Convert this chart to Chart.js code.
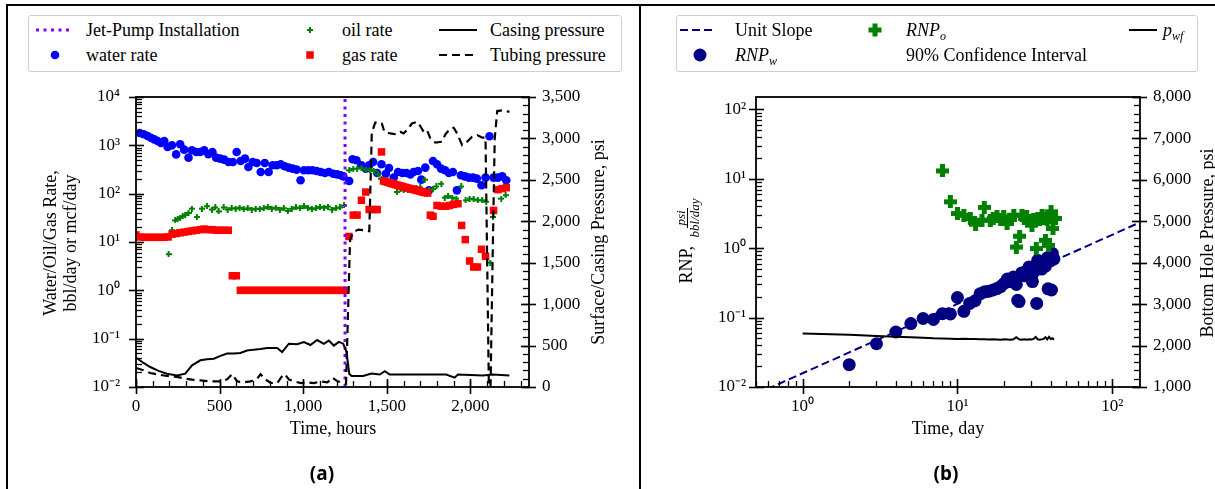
<!DOCTYPE html>
<html>
<head>
<meta charset="utf-8">
<title>Jet-pump production history and RNP</title>
<script src="https://cdn.jsdelivr.net/npm/chart.js@4.4.1/dist/chart.umd.min.js"></script>
<style>
  body { margin: 0; background: #fff; font-family: "Liberation Serif", serif; color: #000; }
  #page { position: relative; width: 1215px; height: 489px; overflow: hidden; }
  .holder { position: absolute; top: 0; }
  .rule { position: absolute; background: #000; }
  .legend { position: absolute; border: 1px solid #cfcfcf; border-radius: 3px; background: #fff; }
  .lbl { position: absolute; font-size: 18px; line-height: 22px; white-space: nowrap; }
  .lbl sub { font-size: 12px; line-height: 0; vertical-align: -4px; font-style: italic; }
  .mark { position: absolute; overflow: visible; }
  .title { position: absolute; font-size: 18px; line-height: 20px; text-align: center; white-space: nowrap; }
  .rot { transform: rotate(-90deg); }
  .frac { display: inline-flex; flex-direction: column; align-items: center; font-style: italic; font-size: 13px; line-height: 13px; vertical-align: middle; margin-left: 4px; }
  .frac span:first-child { border-bottom: 1px solid #000; padding: 0 2px; }
  .panel { position: absolute; width: 100px; text-align: center; font-family: "Noto Sans", sans-serif; font-weight: bold; font-size: 19px; line-height: 24px; }
</style>
</head>
<body>
<div id="page">
  <div class="holder" style="left:0"><canvas id="chartA" width="640" height="489"></canvas></div>
  <div class="holder" style="left:640px"><canvas id="chartB" width="575" height="489"></canvas></div>

  <!-- figure frame -->
  <div class="rule" style="left:6px;top:4px;width:1209px;height:2px"></div>
  <div class="rule" style="left:6px;top:4px;width:2px;height:485px"></div>
  <div class="rule" style="left:639px;top:4px;width:2px;height:485px"></div>

  <!-- legend (a) -->
  <div class="legend" style="left:28px;top:15px;width:592px;height:55px"></div>
  <svg class="mark" style="left:36px;top:25px" width="34" height="10"><line x1="0" y1="5" x2="34" y2="5" stroke="#8000ff" stroke-width="3" stroke-dasharray="3 4.5"/></svg>
  <div class="lbl" style="left:86px;top:19px">Jet-Pump Installation</div>
  <svg class="mark" style="left:50px;top:50px" width="10" height="10"><circle cx="5" cy="5" r="4.3" fill="#0000ff"/></svg>
  <div class="lbl" style="left:86px;top:44px">water rate</div>
  <svg class="mark" style="left:307px;top:27px" width="6" height="6"><path d="M2 0H4V2H6V4H4V6H2V4H0V2H2Z" fill="#008000"/></svg>
  <div class="lbl" style="left:342px;top:19px">oil rate</div>
  <svg class="mark" style="left:306px;top:51px" width="8" height="8"><rect x="0.25" y="0.25" width="7.5" height="7.5" fill="#ff0000"/></svg>
  <div class="lbl" style="left:342px;top:44px">gas rate</div>
  <svg class="mark" style="left:439px;top:25px" width="38" height="10"><line x1="0" y1="5" x2="38" y2="5" stroke="#000" stroke-width="2"/></svg>
  <div class="lbl" style="left:490px;top:19px">Casing pressure</div>
  <svg class="mark" style="left:439px;top:50px" width="38" height="10"><line x1="0" y1="5" x2="38" y2="5" stroke="#000" stroke-width="2.2" stroke-dasharray="8 5"/></svg>
  <div class="lbl" style="left:490px;top:44px">Tubing pressure</div>

  <!-- legend (b) -->
  <div class="legend" style="left:676px;top:15px;width:520px;height:55px"></div>
  <svg class="mark" style="left:680px;top:25px" width="32" height="10"><line x1="0" y1="5" x2="32" y2="5" stroke="#000080" stroke-width="2" stroke-dasharray="8 4"/></svg>
  <div class="lbl" style="left:735px;top:19px">Unit Slope</div>
  <svg class="mark" style="left:693px;top:48px" width="14" height="14"><circle cx="7" cy="7" r="6.5" fill="#000080"/></svg>
  <div class="lbl" style="left:735px;top:44px"><i>RNP</i><sub>w</sub></div>
  <svg class="mark" style="left:868px;top:23px" width="14" height="14"><path d="M4.5 0.5H9.5V4.5H13.5V9.5H9.5V13.5H4.5V9.5H0.5V4.5H4.5Z" fill="#008000"/></svg>
  <div class="lbl" style="left:906px;top:19px"><i>RNP</i><sub>o</sub></div>
  <div class="lbl" style="left:906px;top:44px">90% Confidence Interval</div>
  <svg class="mark" style="left:1129px;top:25px" width="28" height="10"><line x1="0" y1="5" x2="28" y2="5" stroke="#000" stroke-width="2"/></svg>
  <div class="lbl" style="left:1163px;top:19px"><i>p</i><sub>wf</sub></div>

  <!-- axis titles -->
  <div class="title rot" style="left:-90px;top:223px;width:300px;height:40px">Water/Oil/Gas Rate,<br>bbl/day or mcf/day</div>
  <div class="title rot" style="left:448px;top:232px;width:300px;height:20px">Surface/Casing Pressure, psi</div>
  <div class="title" style="left:233px;top:418px;width:200px">Time, hours</div>
  <div class="title rot" style="left:586px;top:221px;width:200px;height:40px;line-height:40px">RNP, <span class="frac"><span>psi</span><span>bbl/day</span></span></div>
  <div class="title rot" style="left:1057px;top:233px;width:300px;height:20px">Bottom Hole Pressure, psi</div>
  <div class="title" style="left:848px;top:418px;width:200px">Time, day</div>
  <div class="panel" style="left:272px;top:461px">(a)</div>
  <div class="panel" style="left:896px;top:461px">(b)</div>
</div>

<script>
// ---- panel (a): production history around the jet-pump installation
const jetPumpHour = 1250;

const waterHours = [22, 46, 69, 89, 109, 129, 149, 169, 189, 215, 240, 264, 288, 314, 334, 360, 384, 408, 433, 457,
  479, 503, 527, 553, 579, 602, 626, 652, 672, 698, 722, 746, 770, 793, 817, 841, 865, 889, 913, 937,
  960, 984, 1004, 1030, 1056, 1080, 1104, 1130, 1153, 1179, 1203, 1225, 1240,
  1275, 1295, 1318, 1348, 1374, 1394, 1418, 1442, 1468, 1494, 1513, 1541, 1567, 1593, 1617, 1641, 1660, 1686,
  1706, 1730, 1752, 1776, 1800, 1824, 1848, 1871, 1895, 1919, 1943, 1967, 1991, 2015, 2038, 2066, 2090,
  2114, 2138, 2164, 2190, 2214];
const waterRate = [1800, 1690, 1560, 1440, 1330, 1230, 1120, 1230, 925, 1000, 650, 1050, 815, 556, 790, 730, 730, 790, 652, 730,
  556, 530, 506, 453, 453, 730, 475, 530, 357, 453, 432, 281, 432, 281, 386, 386, 405, 368, 346, 330,
  314, 189, 305, 305, 305, 295, 281, 268, 281, 259, 251, 240, 228,
  183, 514, 490, 386, 330, 386, 453, 268, 405, 259, 340, 215, 281, 268, 268, 251, 281, 295,
  195, 346, 117, 475, 405, 330, 305, 268, 281, 117, 240, 228, 215, 215, 205, 149, 215,
  1540, 215, 215, 228, 189];

const oilHours = [195, 215, 234, 249, 264, 279, 294, 314, 334, 364, 394, 424, 454, 474, 494, 524,
  548, 572, 596, 620, 644, 668, 692, 716, 740, 764, 788, 812, 836, 860, 884, 908, 932, 956, 980, 1004,
  1028, 1052, 1076, 1100, 1124, 1148, 1172, 1196, 1220, 1244,
  1275, 1299, 1322, 1348, 1374, 1398, 1422, 1448, 1468, 1494, 1517, 1540, 1561, 1581, 1601, 1626, 1651,
  1676, 1700, 1726, 1752, 1776, 1796, 1826, 1846, 1866, 1891, 1915, 1945, 1971, 1995, 2019, 2044, 2070,
  2094, 2118, 2134, 2184, 2210];
const oilRate = [5.6, 17.5, 28, 30, 32, 34, 36, 40, 49, 33, 49, 55, 47, 52, 43, 52,
  47, 50, 49, 51, 48, 50, 47, 49, 48, 50, 53, 49, 51, 47, 50, 44, 49, 52, 50, 55,
  51, 48, 50, 53, 51, 54, 47, 50, 52, 57,
  304, 324, 330, 340, 314, 314, 295, 251, 205, 189, 166, 150, 108, 125, 117, 118, 121,
  128, 135, 195, 120, 124, 141, 160, 83, 89, 83, 79, 141, 73, 79, 76, 73, 73,
  68, 3.75, 33, 79, 93];

const gasHours = [0, 24, 48, 72, 96, 120, 144, 168, 192, 216, 240, 264, 288, 312, 336, 360, 384, 408, 432, 456,
  480, 504, 528, 552, 576, 600, 624, 648, 672, 696, 720, 744, 768, 792, 816, 840, 864, 888, 912, 936,
  960, 984, 1008, 1032, 1056, 1080, 1104, 1128, 1152, 1176, 1200, 1224, 1248,
  1273, 1299, 1322, 1348, 1374, 1394, 1418, 1442, 1468, 1480, 1492, 1504, 1516, 1528, 1540, 1552, 1564,
  1576, 1588, 1600, 1612, 1624, 1636, 1648, 1660, 1672, 1684, 1696, 1708, 1720, 1732, 1744,
  1760, 1776, 1800, 1826, 1852, 1875, 1899, 1925, 1947, 1969, 1995, 2019, 2042, 2066, 2090,
  2138, 2164, 2190, 2214];
const gasRate = [14, 12.7, 12.5, 12.5, 12.5, 12.5, 12.5, 12.5, 12.7, 14.5, 15, 15.5, 16, 16.5, 17, 17.5, 18, 18.5, 18, 18,
  17.5, 17.5, 17.5, 17.5, 2.0, 2.0, 1, 1, 1, 1, 1, 1, 1, 1, 1, 1, 1, 1, 1, 1,
  1, 1, 1, 1, 1, 1, 1, 1, 1, 1, 1, 1, 1,
  13, 36, 36, 73, 108, 47, 47, 47, 730, 183, 178, 173, 168, 163, 158, 154, 150,
  146, 142, 138, 134, 131, 128, 125, 122, 119, 116, 113, 110, 107, 105, 103,
  36, 34, 57, 55, 55, 57, 60, 62, 22, 11.2, 4.05, 3.04, 3.04, 7.06, 5.06,
  45, 121, 127, 133];

const casingHours = [0, 45, 85, 135, 185, 245, 295, 335, 385, 425, 465, 505, 545, 585, 624, 664, 704, 744, 784, 844,
  874, 914, 964, 1004, 1043, 1083, 1123, 1153, 1183, 1213, 1239, 1259, 1275, 1289, 1358, 1408, 1458, 1488,
  1517, 1657, 1855, 1905, 1925, 2074, 2134, 2233];
const casingPsi = [355, 290, 241, 195, 161, 140, 161, 262, 322, 335, 342, 375, 403, 405, 411, 440, 451, 460, 471, 471,
  422, 523, 516, 543, 507, 567, 520, 560, 500, 545, 523, 422, 161, 133, 133, 163, 150, 190,
  150, 150, 150, 113, 150, 140, 150, 140];

const tubingHours = [0, 45, 85, 135, 185, 245, 295, 335, 385, 445, 505, 545, 575, 605, 645, 685, 725, 745, 775, 805,
  845, 870, 890, 915, 945, 985, 1025, 1065, 1105, 1145, 1175, 1205, 1240, 1256, 1280, 1300, 1330, 1370, 1395, 1410,
  1430, 1450, 1470, 1485, 1520, 1555, 1580, 1600, 1620, 1650, 1680, 1700, 1720, 1740, 1760, 1790, 1830, 1850, 1880, 1900,
  1920, 1950, 1980, 2010, 2040, 2070, 2090, 2100, 2110, 2120, 2132, 2145, 2160, 2195, 2233];
const tubingPsi = [230, 202, 169, 150, 133, 123, 101, 89, 80, 68, 68, 93, 155, 68, 56, 68, 101, 155, 89, 48,
  48, 121, 155, 89, 68, 48, 56, 48, 68, 56, 113, 68, 48, 40, 1780, 1870, 1900, 1890, 1880, 3070,
  3190, 3200, 3180, 3080, 3060, 3050, 3080, 3060, 3100, 3180, 3200, 3150, 3080, 3100, 3000, 2950, 2960, 3050, 3120, 3130,
  3060, 2920, 2960, 3020, 3040, 3010, 3010, 1500, 0, 0, 1500, 3000, 3330, 3340, 3320];

const hourTicks = [0, 500, 1000, 1500, 2000];
const rateTicks = [1e-2, 1e-1, 1, 10, 100, 1000, 1e4];
const surfacePsiTicks = [0, 500, 1000, 1500, 2000, 2500, 3000, 3500];

// ---- panel (b): rate-normalized pressure
const unitSlopeDays = [0.5, 160];
const unitSlopeRnp = [0.0079, 2.5];

const rnpwDays = [2, 3, 4, 5, 6, 7, 8, 9, 10, 11, 12, 13, 14, 15, 16, 17, 18, 19, 20, 21, 22, 23,
  24, 24.5, 25, 26, 27, 28, 29, 30, 30.5, 31, 32, 32.5, 33, 34, 35, 36, 37, 38, 38.5, 39, 40, 40.5, 41, 42];
const rnpw = [0.021, 0.042, 0.062, 0.082, 0.097, 0.094, 0.114, 0.113, 0.195, 0.123, 0.16, 0.175, 0.22, 0.235, 0.24, 0.25,
  0.262, 0.28, 0.31, 0.36, 0.33, 0.385,
  0.30, 0.178, 0.17, 0.44, 0.40, 0.47, 0.537, 0.37, 0.33, 0.45, 0.55, 0.16, 0.67, 0.57, 0.50, 0.62, 0.55, 0.72,
  0.26, 0.75, 0.66, 0.25, 0.84, 0.70];

const rnpoDays = [8, 9, 10, 11, 12.1, 13.1, 14.4, 14.9, 16.3, 17, 18, 19, 19.9, 20.9, 22, 23.1, 24, 25.2, 26.1, 27,
  28, 29, 30.3, 31, 32.3, 33, 34, 35.2, 36, 37, 38, 38.8, 39.5, 40.2, 41.4, 42, 43];
const rnpo = [13.0, 4.66, 3.16, 2.99, 2.68, 2.22, 2.53, 3.87, 2.53, 2.7, 2.83, 2.6, 2.83, 2.27, 2.6, 2.99, 1.04, 1.49, 2.99, 2.7,
  2.83, 2.5, 2.15, 2.6, 0.99, 2.7, 2.6, 2.99, 2.7, 1.30, 2.6, 1.10, 2.8, 3.34, 1.92, 2.7, 2.68];

const pwfDays = [1, 2, 3, 4, 5, 6, 7, 8, 9, 10, 11, 12, 13, 14, 15, 16, 17, 18, 19, 20, 21,
  22, 23, 24, 25, 26, 27, 28, 29, 30, 31, 32, 33, 34, 35, 36, 37, 38, 39, 40, 41, 42];
const pwf = [2290, 2260, 2230, 2215, 2200, 2190, 2175, 2170, 2165, 2160, 2165, 2160, 2160, 2150, 2150, 2145, 2150, 2145, 2140, 2150,
  2145, 2140, 2150, 2200, 2150, 2140, 2150, 2140, 2150, 2145, 2160, 2210, 2150, 2140, 2150, 2160, 2200, 2150, 2210, 2160,
  2180, 2140];

const dayTicks = [1, 10, 100];
const rnpTicks = [1e-2, 1e-1, 1, 10, 100];
const bhpTicks = [1000, 2000, 3000, 4000, 5000, 6000, 7000, 8000];

// --- helpers
const pts = (xs, ys) => xs.map((x, i) => ({ x: x, y: ys[i] }));
const only = values => scale => { scale.ticks = values.map(v => ({ value: v })); };
const commas = v => Number(v).toLocaleString('en-US');
const supDigits = { '-': '\u207B', '0': '\u2070', '1': '\u00B9', '2': '\u00B2', '3': '\u00B3',
  '4': '\u2074', '5': '\u2075', '6': '\u2076', '7': '\u2077', '8': '\u2078', '9': '\u2079' };
function powerLabel(v) {
  const e = Math.round(Math.log10(v));
  return '10' + String(e).split('').map(c => supDigits[c]).join('');
}
function decadeMinors(lo, hi) {
  const out = [];
  for (let d = lo; d <= hi; d++) for (let k = 2; k <= 9; k++) out.push(k * Math.pow(10, d));
  return out;
}
function steps(a, b, s) {
  const out = [];
  for (let v = a; v <= b + 1e-9; v += s) out.push(v);
  return out;
}

function plusMarker(size, color) {
  const c = document.createElement('canvas');
  c.width = c.height = size;
  const g = c.getContext('2d');
  const t = Math.round(size * 0.36);
  const o = Math.round((size - t) / 2);
  g.fillStyle = color;
  g.fillRect(o, 0, t, size);
  g.fillRect(0, o, size, t);
  return c;
}

// matplotlib-like spines and in/out tick marks, drawn after everything else
function tickMarks(spec) {
  return {
    id: 'tickMarks',
    afterDraw(chart) {
      const ctx = chart.ctx, a = chart.chartArea;
      ctx.save();
      ctx.setLineDash([]);
      ctx.strokeStyle = '#000';
      Object.keys(spec).forEach(id => {
        const s = spec[id], scale = chart.scales[id];
        const mark = (v, inner, outer, w) => {
          const p = Math.round(scale.getPixelForValue(v)) + 0.5;
          if (!isFinite(p)) return;
          ctx.lineWidth = w;
          ctx.beginPath();
          if (s.side === 'bottom') {
            if (p < a.left - 1 || p > a.right + 1) return;
            ctx.moveTo(p, a.bottom + outer);
            ctx.lineTo(p, a.bottom - inner);
          } else {
            if (p < a.top - 1 || p > a.bottom + 1) return;
            const x0 = s.side === 'left' ? a.left : a.right;
            const dir = s.side === 'left' ? 1 : -1;
            ctx.moveTo(x0 - dir * outer, p);
            ctx.lineTo(x0 + dir * inner, p);
          }
          ctx.stroke();
        };
        s.minor.forEach(v => mark(v, 6, 0, 1.3));
        s.major.forEach(v => mark(v, 8, 7, 1.6));
      });
      ctx.lineWidth = 1.8;
      ctx.strokeRect(a.left, a.top, a.right - a.left, a.bottom - a.top);
      ctx.restore();
    }
  };
}

const tickFont = { family: 'Liberation Serif', size: 17 };
const noGrid = { display: false, drawTicks: false };
const noBorder = { display: false };
const baseOptions = (scales) => ({
  responsive: false,
  animation: false,
  events: [],
  layout: { padding: { left: 0, right: 0, top: 97, bottom: 62 } },
  plugins: { legend: { display: false }, tooltip: { enabled: false } },
  scales: scales
});

// --- chart (a)
new Chart(document.getElementById('chartA'), {
  type: 'scatter',
  data: {
    datasets: [
      { label: 'water rate', data: pts(waterHours, waterRate), yAxisID: 'y', pointStyle: 'circle',
        pointRadius: 4.3, backgroundColor: '#0000ff', borderWidth: 0, clip: 0, order: 6 },
      { label: 'oil rate', data: pts(oilHours, oilRate), yAxisID: 'y', pointStyle: plusMarker(6, '#008000'),
        pointRadius: 3, borderWidth: 0, clip: 0, order: 5 },
      { label: 'gas rate', data: pts(gasHours, gasRate), yAxisID: 'y', pointStyle: 'rect',
        pointRadius: 5.3, backgroundColor: '#ff0000', borderWidth: 0, clip: 0, order: 4 },
      { label: 'Jet-Pump Installation', data: [{ x: jetPumpHour, y: 1e-2 }, { x: jetPumpHour, y: 1e4 }], yAxisID: 'y',
        showLine: true, pointRadius: 0, borderColor: '#8000ff', borderWidth: 3, borderDash: [3, 4.5], clip: 0, order: 3 },
      { label: 'Casing pressure', data: pts(casingHours, casingPsi), yAxisID: 'y2',
        showLine: true, pointRadius: 0, borderColor: '#000', borderWidth: 2, clip: 0, order: 2 },
      { label: 'Tubing pressure', data: pts(tubingHours, tubingPsi), yAxisID: 'y2',
        showLine: true, pointRadius: 0, borderColor: '#000', borderWidth: 2.2, borderDash: [8, 5], clip: 0, order: 1 }
    ]
  },
  options: baseOptions({
    x: { type: 'linear', position: 'bottom', min: 0, max: 2350,
      afterBuildTicks: only(hourTicks), afterFit: s => { s.height = 40; },
      grid: noGrid, border: noBorder,
      ticks: { autoSkip: false, maxRotation: 0, padding: 9, font: tickFont, color: '#000', callback: commas } },
    y: { type: 'logarithmic', position: 'left', min: 1e-2, max: 1e4,
      afterBuildTicks: only(rateTicks), afterFit: s => { s.width = 136; },
      grid: noGrid, border: noBorder,
      ticks: { autoSkip: false, padding: 16, font: tickFont, color: '#000', callback: powerLabel } },
    y2: { type: 'linear', position: 'right', min: 0, max: 3500,
      afterBuildTicks: only(surfacePsiTicks), afterFit: s => { s.width = 111; },
      grid: noGrid, border: noBorder,
      ticks: { autoSkip: false, padding: 13, font: tickFont, color: '#000', callback: commas } }
  }),
  plugins: [tickMarks({
    x: { side: 'bottom', major: hourTicks, minor: steps(0, 2300, 100) },
    y: { side: 'left', major: rateTicks, minor: decadeMinors(-2, 3) },
    y2: { side: 'right', major: surfacePsiTicks, minor: steps(0, 3500, 100) }
  })]
});

// --- chart (b)
new Chart(document.getElementById('chartB'), {
  type: 'scatter',
  data: {
    datasets: [
      { label: 'Unit Slope', data: pts(unitSlopeDays, unitSlopeRnp), yAxisID: 'y',
        showLine: true, pointRadius: 0, borderColor: '#000080', borderWidth: 2, borderDash: [8, 4], clip: 0, order: 3 },
      { label: 'RNPw', data: pts(rnpwDays, rnpw), yAxisID: 'y', pointStyle: 'circle',
        pointRadius: 6.5, backgroundColor: '#000080', borderWidth: 0, clip: 0, order: 5 },
      { label: 'RNPo', data: pts(rnpoDays, rnpo), yAxisID: 'y', pointStyle: plusMarker(13, '#008000'),
        pointRadius: 6, borderWidth: 0, clip: 0, order: 4 },
      { label: 'pwf', data: pts(pwfDays, pwf), yAxisID: 'y2',
        showLine: true, pointRadius: 0, borderColor: '#000', borderWidth: 2, clip: 0, order: 1 }
    ]
  },
  options: baseOptions({
    x: { type: 'logarithmic', position: 'bottom', min: 0.5, max: 151,
      afterBuildTicks: only(dayTicks), afterFit: s => { s.height = 40; },
      grid: noGrid, border: noBorder,
      ticks: { autoSkip: false, maxRotation: 0, padding: 9, font: tickFont, color: '#000', callback: powerLabel } },
    y: { type: 'logarithmic', position: 'left', min: 1e-2, max: 151,
      afterBuildTicks: only(rnpTicks), afterFit: s => { s.width = 116; },
      grid: noGrid, border: noBorder,
      ticks: { autoSkip: false, padding: 10, font: tickFont, color: '#000', callback: powerLabel } },
    y2: { type: 'linear', position: 'right', min: 1000, max: 8000,
      afterBuildTicks: only(bhpTicks), afterFit: s => { s.width = 75; },
      grid: noGrid, border: noBorder,
      ticks: { autoSkip: false, padding: 13, font: tickFont, color: '#000', callback: commas } }
  }),
  plugins: [tickMarks({
    x: { side: 'bottom', major: dayTicks, minor: decadeMinors(-1, 2) },
    y: { side: 'left', major: rnpTicks, minor: decadeMinors(-2, 2) },
    y2: { side: 'right', major: bhpTicks, minor: steps(1000, 8000, 200) }
  })]
});
</script>
</body>
</html>
